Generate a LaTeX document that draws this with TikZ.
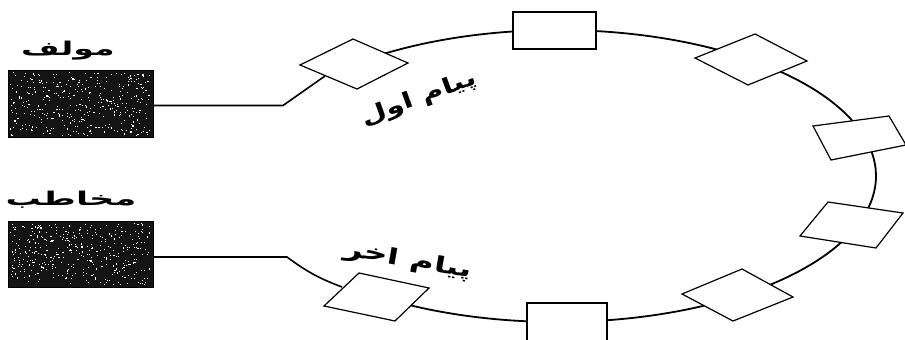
\documentclass[tikz,border=0pt]{standalone}
\usepackage{fontspec}
\newfontfamily\arabicfont[Script=Arabic]{DejaVu Sans}
\TeXXeTstate=1
\usetikzlibrary{calc}
\tikzset{
  ring/.style={line width=1.8pt, black},
  wire/.style={line width=1.6pt, black},
  quad/.style={draw=black, fill=white, line width=1.2pt, line join=miter},
  darkbox/.style={draw=black, fill=black!92, minimum width=145pt, minimum height=67pt, inner sep=0pt, line width=0.8pt},
  lbl/.style={font=\arabicfont\bfseries\fontsize{19}{22}\selectfont, inner sep=0pt},
  msg/.style={font=\arabicfont\bfseries\fontsize{22}{26}\selectfont, inner sep=0pt}
}
\begin{document}
\begin{tikzpicture}[x=1pt, y=-1pt]
\useasboundingbox[fill=white] (0,0) rectangle (905,340);
% boxes
\node[darkbox] (author) at (80.5,104) {};
\node[darkbox, minimum height=66pt] (audience) at (80.5,254) {};
\pgfmathsetseed{11}
\foreach \i in {1,...,380} {
  \fill[white] ({10+140*rnd},{72+63*rnd}) rectangle ++(1.1,1.1);
  \fill[white] ({10+140*rnd},{223+61*rnd}) rectangle ++(1.1,1.1);
}
\node[lbl] (authorlbl) at (68,51) {\scalebox{1.75}[1]{\beginR مولف\endR}};
\node[lbl] (audiencelbl) at (71,200) {\scalebox{1.85}[1]{\beginR مخاطب\endR}};
% ring
\draw[ring] plot[domain=-124:130, samples=160, smooth] ({558+318*cos(\x)},{176-146*sin(\x)});
% ring anchor points
\coordinate (inA) at (325,76);
\coordinate (inH) at (342,287);
\coordinate (bendA) at (283,105.5);
\coordinate (bendH) at (287,257);
\draw[wire] ($(author.east)+(0,1.5)$) -- (bendA) -- (inA);
\draw[wire] ($(audience.east)+(0,3)$) -- (bendH) to[bend right=8] (inH);
% stations on the ring
\draw[quad] (300,65) -- (353,39) -- (408,63) -- (357,89) -- cycle;        % top-left
\draw[quad] (513,12) rectangle (596,49);                                    % top
\draw[quad] (695,58) -- (755,34) -- (807,61) -- (748,85) -- cycle;          % upper right
\draw[quad] (813,126) -- (889,116) -- (906,145) -- (831,160) -- cycle;      % right upper
\draw[quad] (828,202) -- (903,213) -- (876,248) -- (800,236) -- cycle;      % right lower
\draw[quad] (742,269) -- (793,297) -- (733,321) -- (682,294) -- cycle;      % lower right
\draw[quad] (527,303) rectangle (607,345);                                  % bottom
\draw[quad] (359,273) -- (429,288) -- (395,321) -- (324,306) -- cycle;      % lower left
% message labels
\node[msg, rotate=20] (first) at (419,99) {\scalebox{1.35}[1]{\beginR پیام اول\endR}};
\node[msg, rotate=-10] (last) at (408,261) {\scalebox{1.5}[1]{\beginR پیام اخر\endR}};
\end{tikzpicture}
\end{document}
